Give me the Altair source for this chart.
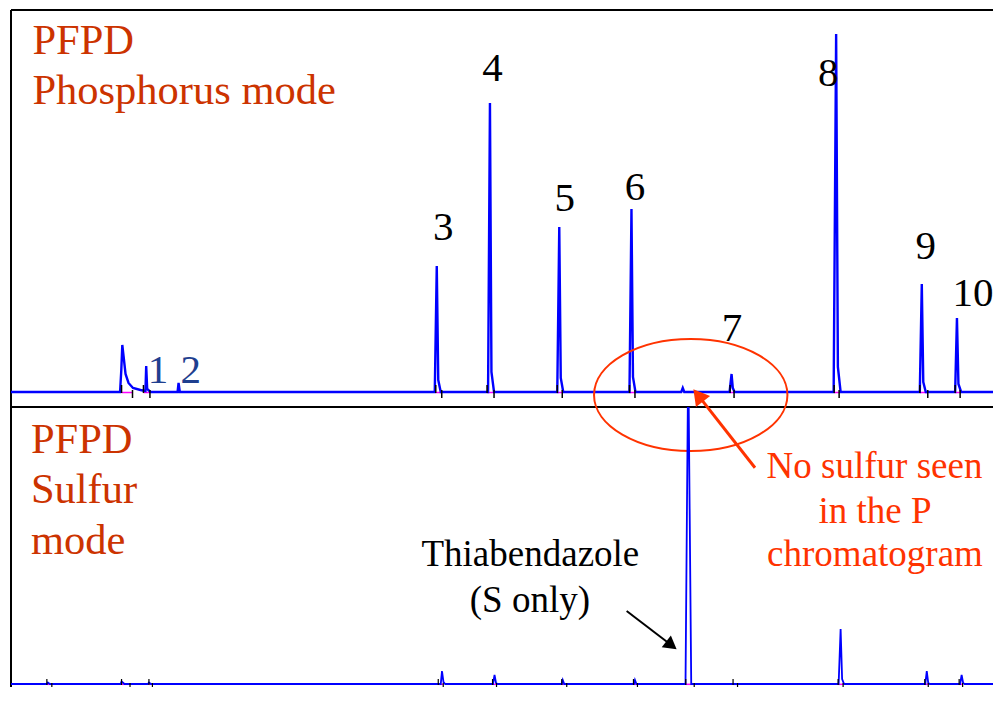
import altair as alt
import pandas as pd

# ---------------- data ----------------
# Retention time (min) and detector response (relative units, baseline = 0)
# Phosphorus-mode trace (top)
p_time = [0.00, 2.19, 2.215, 2.235, 2.26, 2.30, 2.36, 2.45, 2.60, 2.70, 2.715, 2.735, 2.80,
          3.345, 3.365, 3.39,
          8.51, 8.55, 8.58, 8.63,
          9.58, 9.618, 9.648, 9.70,
          10.97, 11.01, 11.04, 11.09,
          12.42, 12.46, 12.49, 12.54,
          13.46, 13.49, 13.52,
          14.43, 14.47, 14.495, 14.53,
          16.52, 16.57, 16.605, 16.66,
          18.25, 18.29, 18.32, 18.37,
          18.96, 18.996, 19.026, 19.08,
          19.72]
p_signal = [0, 0, 22, 47, 36, 18, 9, 4, 2, 1, 26, 3, 0,
            0, 9, 0,
            0, 126, 12, 0,
            0, 289, 20, 0,
            0, 165, 14, 0,
            0, 183, 15, 0,
            0, 4, 0,
            0, 18, 4, 0,
            0, 358, 25, 0,
            0, 108, 10, 0,
            0, 74, 8, 0,
            0]

# Sulfur-mode trace (bottom)
s_time = [0.00, 0.72, 0.74, 0.78, 2.20, 2.22, 2.28, 2.75, 2.77, 2.81,
          8.63, 8.655, 8.685, 8.72,
          9.68, 9.71, 9.74, 9.77,
          11.06, 11.08, 11.11,
          12.51, 12.53, 12.56,
          13.545, 13.60, 13.66,
          16.62, 16.66, 16.69, 16.73,
          18.36, 18.39, 18.42, 18.45,
          19.06, 19.09, 19.12, 19.15,
          19.72]
s_signal = [0, 0, 1.5, 0, 0, 2.5, 0, 0, 1.5, 0,
            0, 13, 2, 0,
            0, 9, 1, 0,
            0, 4, 0,
            0, 4, 0,
            0, 330, 0,
            0, 55, 5, 0,
            0, 13, 1, 0,
            0, 9, 1, 0,
            0]

# integration start / end marks
p_start = [2.22, 2.66, 8.53, 9.56, 10.97, 12.42, 14.44, 16.53, 18.25, 18.96]
p_end = [2.44, 2.79, 8.65, 9.70, 11.07, 12.53, 14.52, 16.63, 18.41, 19.06]
s_start = [0.72, 2.22, 2.77, 8.58, 9.67, 11.06, 12.50, 13.55, 14.50, 16.61, 18.35, 19.04]
s_end = [0.82, 2.39, 2.84, 8.68, 9.75, 11.16, 12.58, 13.72, 14.59, 16.71, 18.42, 19.11]

# peak number labels (top)
peak_labels = ["3", "4", "5", "6", "7", "8", "9", "10"]
peak_label_t = [8.68, 9.67, 11.12, 12.53, 14.48, 16.41, 18.37, 19.32]
peak_label_v = [152, 311, 181, 192, 51, 306, 133, 86]
small_labels = ["1", "2"]
small_label_t = [2.95, 3.61]
small_label_v = [9, 9]

SERIF = "Liberation Serif"
XDOM = [0, 19.72]
P_YDOM = [-15, 382]
S_YDOM = [-3, 277]
TOP_H = 397
BOT_H = 280
W = 982


def xs(field):
    return alt.X(field, type="quantitative", scale=alt.Scale(domain=XDOM, nice=False, zero=False), axis=None)


def ys(field, dom):
    return alt.Y(field, type="quantitative", scale=alt.Scale(domain=dom, nice=False, zero=False), axis=None)


one = pd.DataFrame({"k": [0]})


def hframe(ypix):
    return alt.Chart(one).mark_rule(color="black", strokeWidth=2).encode(
        x=alt.value(0), x2=alt.value(W), y=alt.value(ypix))


def vframe(h):
    return alt.Chart(one).mark_rule(color="black", strokeWidth=2).encode(
        x=alt.value(0), y=alt.value(0), y2=alt.value(h))


# ---------------- top panel ----------------
p_df = pd.DataFrame({"t": p_time, "v": p_signal})
p_marks = pd.DataFrame({"s": p_start, "e": p_end})
p_marks["base"] = -0.5
p_marks["up0"] = -1
p_marks["up1"] = 7
p_marks["dn0"] = 2
p_marks["dn1"] = -6

p_integ = alt.Chart(p_marks).mark_rule(color="#FF00FF", strokeWidth=1.5).encode(
    x=xs("s"), x2="e", y=ys("base", P_YDOM))
p_tick_s = alt.Chart(p_marks).mark_rule(color="black", strokeWidth=1.5).encode(
    x=xs("s"), y=ys("up0", P_YDOM), y2="up1")
p_tick_e = alt.Chart(p_marks).mark_rule(color="black", strokeWidth=1.5).encode(
    x=xs("e"), y=ys("dn0", P_YDOM), y2="dn1")
p_line = alt.Chart(p_df).mark_line(color="#0000FF", strokeWidth=2.4, interpolate="linear").encode(
    x=xs("t"), y=ys("v", P_YDOM), order="t:Q")

lab_df = pd.DataFrame({"t": peak_label_t, "v": peak_label_v, "txt": peak_labels})
p_lab = alt.Chart(lab_df).mark_text(font=SERIF, fontSize=41, color="black", align="center",
                                    baseline="alphabetic").encode(
    x=xs("t"), y=ys("v", P_YDOM), text="txt:N")
sm_df = pd.DataFrame({"t": small_label_t, "v": small_label_v, "txt": small_labels})
p_small = alt.Chart(sm_df).mark_text(font=SERIF, fontSize=41, color="#1F3F8F", align="center",
                                     baseline="alphabetic").encode(
    x=xs("t"), y=ys("v", P_YDOM), text="txt:N")

p_title_df = pd.DataFrame({"t": [0.43, 0.43], "v": [337.7, 287.7], "txt": ["PFPD", "Phosphorus mode"]})
p_title = alt.Chart(p_title_df).mark_text(font=SERIF, fontSize=42.5, color="#CC3300", align="left",
                                          baseline="alphabetic").encode(
    x=xs("t"), y=ys("v", P_YDOM), text="txt:N")

ell_df = pd.DataFrame({"t": [13.65], "v": [-3]})
ellipse = alt.Chart(ell_df).mark_point(
    shape="M-1,0 A1,0.579 0 1,1 1,0 A1,0.579 0 1,1 -1,0 Z",
    size=37404, filled=False, color="#FF3300", strokeWidth=2, opacity=1).encode(
    x=xs("t"), y=ys("v", P_YDOM))

rarrow_df = pd.DataFrame({"t": [14.94], "v": [-75.7], "t2": [13.80], "v2": [-3.4]})
r_shaft = alt.Chart(rarrow_df).mark_rule(color="#FF3300", strokeWidth=3).encode(
    x=xs("t"), y=ys("v", P_YDOM), x2="t2", y2="v2")
r_head = alt.Chart(rarrow_df).mark_point(shape="triangle-up", filled=True, size=324, angle=321.8,
                                         color="#FF3300", opacity=1).encode(
    x=xs("t2"), y=ys("v2", P_YDOM))

top = alt.layer(hframe(0), vframe(TOP_H), hframe(TOP_H),
                p_integ, p_line, p_tick_s, p_tick_e, p_lab, p_small, p_title,
                ellipse, r_shaft, r_head).properties(width=W, height=TOP_H)

# ---------------- bottom panel ----------------
s_df = pd.DataFrame({"t": s_time, "v": s_signal})
s_marks = pd.DataFrame({"s": s_start, "e": s_end})
s_marks["base"] = -0.3
s_marks["up0"] = -1
s_marks["up1"] = 5
s_marks["dn0"] = 1
s_marks["dn1"] = -3

s_integ = alt.Chart(s_marks).mark_rule(color="#FF00FF", strokeWidth=1.5).encode(
    x=xs("s"), x2="e", y=ys("base", S_YDOM))
s_tick_s = alt.Chart(s_marks).mark_rule(color="black", strokeWidth=1.2).encode(
    x=xs("s"), y=ys("up0", S_YDOM), y2="up1")
s_tick_e = alt.Chart(s_marks).mark_rule(color="black", strokeWidth=1.2).encode(
    x=xs("e"), y=ys("dn0", S_YDOM), y2="dn1")
s_line = alt.Chart(s_df).mark_line(color="#0000FF", strokeWidth=1.8, clip=True).encode(
    x=xs("t"), y=ys("v", S_YDOM), order="t:Q")

s_title_df = pd.DataFrame({"t": [0.40, 0.40, 0.40], "v": [231.3, 181.3, 130.3],
                           "txt": ["PFPD", "Sulfur", "mode"]})
s_title = alt.Chart(s_title_df).mark_text(font=SERIF, fontSize=42.5, color="#CC3300", align="left",
                                          baseline="alphabetic").encode(
    x=xs("t"), y=ys("v", S_YDOM), text="txt:N")

thia_df = pd.DataFrame({"t": [10.43, 10.42], "v": [118, 72.3], "txt": ["Thiabendazole", "(S only)"]})
thia = alt.Chart(thia_df).mark_text(font=SERIF, fontSize=37, color="black", align="center",
                                    baseline="alphabetic").encode(
    x=xs("t"), y=ys("v", S_YDOM), text="txt:N")

note_df = pd.DataFrame({"t": [17.34, 17.35, 17.35], "v": [206.3, 161.3, 118],
                        "txt": ["No sulfur seen", "in the P", "chromatogram"]})
note = alt.Chart(note_df).mark_text(font=SERIF, fontSize=37, color="#FF3300", align="center",
                                    baseline="alphabetic").encode(
    x=xs("t"), y=ys("v", S_YDOM), text="txt:N")

barrow_df = pd.DataFrame({"t": [12.363], "v": [73], "t2": [13.263], "v2": [38.7]})
b_shaft = alt.Chart(barrow_df).mark_rule(color="black", strokeWidth=2).encode(
    x=xs("t"), y=ys("v", S_YDOM), x2="t2", y2="v2")
b_head = alt.Chart(barrow_df).mark_point(shape="triangle-up", filled=True, size=225, angle=127.5,
                                         color="black", opacity=1).encode(
    x=xs("t2"), y=ys("v2", S_YDOM))

bottom = alt.layer(vframe(BOT_H), s_integ, s_line, s_tick_s, s_tick_e, s_title, thia, note,
                   b_shaft, b_head).properties(width=W, height=BOT_H)

chart = alt.vconcat(top, bottom, spacing=0, bounds="flush").properties(
    padding={"left": -2, "top": 1, "right": 0, "bottom": 0},
    background="white",
).configure_view(stroke="transparent", strokeWidth=0)

chart.save("out.html", embed_options={"renderer": "svg", "actions": False})
